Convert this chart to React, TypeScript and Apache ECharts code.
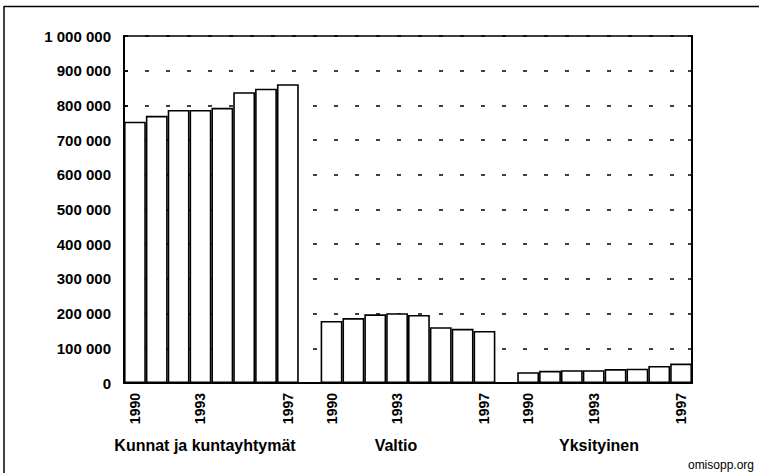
import React, { useEffect, useRef } from "react";
import * as echarts from "echarts";

const years = ["1990", "1991", "1992", "1993", "1994", "1995", "1996", "1997"];
const groupNames = ["Kunnat ja kuntayhtymät", "Valtio", "Yksityinen"];
const kunnat = [753000, 770000, 787000, 787000, 793000, 838000, 848000, 861000];
const valtio = [179000, 187000, 198000, 201000, 196000, 161000, 156000, 150000];
const yksityinen = [31000, 35000, 37000, 37000, 40000, 41000, 49000, 56000];
const shownYears = ["1990", "1993", "1997"];
const yMin = 0;
const yMax = 1000000;
const yStep = 100000;

const fmt = (v: number) => String(v).replace(/\B(?=(\d{3})+(?!\d))/g, " ");

export default function App() {
  const ref = useRef<HTMLDivElement>(null);
  useEffect(() => {
    if (!ref.current) return;
    const chart = echarts.init(ref.current, null, { renderer: "svg" });
    const groups = [kunnat, valtio, yksityinen];
    const categories: string[] = [];
    const values: (number | null)[] = [];
    groups.forEach((g, gi) => {
      years.forEach((y, i) => {
        categories.push(y);
        values.push(g[i]);
      });
      if (gi < groups.length - 1) {
        categories.push(" ");
        values.push(null);
      }
    });
    const font = "'Liberation Sans', Arial, sans-serif";
    chart.setOption({
      animation: false,
      grid: {
        left: 124,
        top: 36,
        width: 568,
        height: 347,
        show: true,
        borderColor: "#000",
        borderWidth: 1.5,
        backgroundColor: "transparent",
      },
      xAxis: {
        type: "category",
        data: categories,
        axisLine: { show: true, lineStyle: { color: "#000", width: 2 } },
        axisTick: { show: false },
        axisLabel: {
          rotate: 90,
          margin: 10,
          interval: (_i: number, v: string) => shownYears.includes(v),
          color: "#000",
          fontFamily: font,
          fontWeight: "bold",
          fontSize: 14,
        },
        splitLine: { show: false },
      },
      yAxis: [
        {
          type: "value",
          min: yMin,
          max: yMax,
          interval: yStep,
          axisLine: { show: true, lineStyle: { color: "#000", width: 2 } },
          axisTick: { show: true, inside: true, length: 4, lineStyle: { color: "#000", width: 1.5 } },
          axisLabel: {
            formatter: (v: number) => fmt(v),
            color: "#000",
            fontFamily: font,
            fontWeight: "bold",
            fontSize: 15,
            margin: 13,
          },
          splitLine: {
            show: true,
            lineStyle: { color: "#000", width: 1.5, type: [4, 17] },
          },
        },
        {
          type: "value",
          position: "right",
          min: yMin,
          max: yMax,
          interval: yStep,
          axisLine: { show: true, lineStyle: { color: "#000", width: 2 } },
          axisTick: { show: true, inside: true, length: 4, lineStyle: { color: "#000", width: 1.5 } },
          axisLabel: { show: false },
          splitLine: { show: false },
        },
      ],
      series: [
        {
          type: "bar",
          data: values,
          barCategoryGap: "0%",
          yAxisIndex: 0,
          itemStyle: { color: "#fff", borderColor: "#000", borderWidth: 1.6 },
        },
      ],
      graphic: [
        {
          type: "line",
          shape: { x1: 4, y1: 6.5, x2: 759, y2: 6.5 },
          style: { stroke: "#000", lineWidth: 1.5 },
        },
        {
          type: "line",
          shape: { x1: 4, y1: 6, x2: 4, y2: 473 },
          style: { stroke: "#000", lineWidth: 1.5 },
        },
        ...groupNames.map((name, i) => ({
          type: "text",
          x: [205, 396, 599][i],
          y: 445,
          style: {
            text: name,
            fill: "#000",
            font: `bold 16px ${font}`,
            textAlign: "center",
            textVerticalAlign: "middle",
          },
        })),
        {
          type: "text",
          x: 754,
          y: 459,
          style: {
            text: "omisopp.org",
            fill: "#000",
            font: `12px ${font}`,
            textAlign: "right",
            textVerticalAlign: "top",
          },
        },
      ],
    });
    return () => chart.dispose();
  }, []);
  return (
    <div
      ref={ref}
      style={{ position: "fixed", left: 0, top: 0, width: 759, height: 473, background: "#fff" }}
    />
  );
}
